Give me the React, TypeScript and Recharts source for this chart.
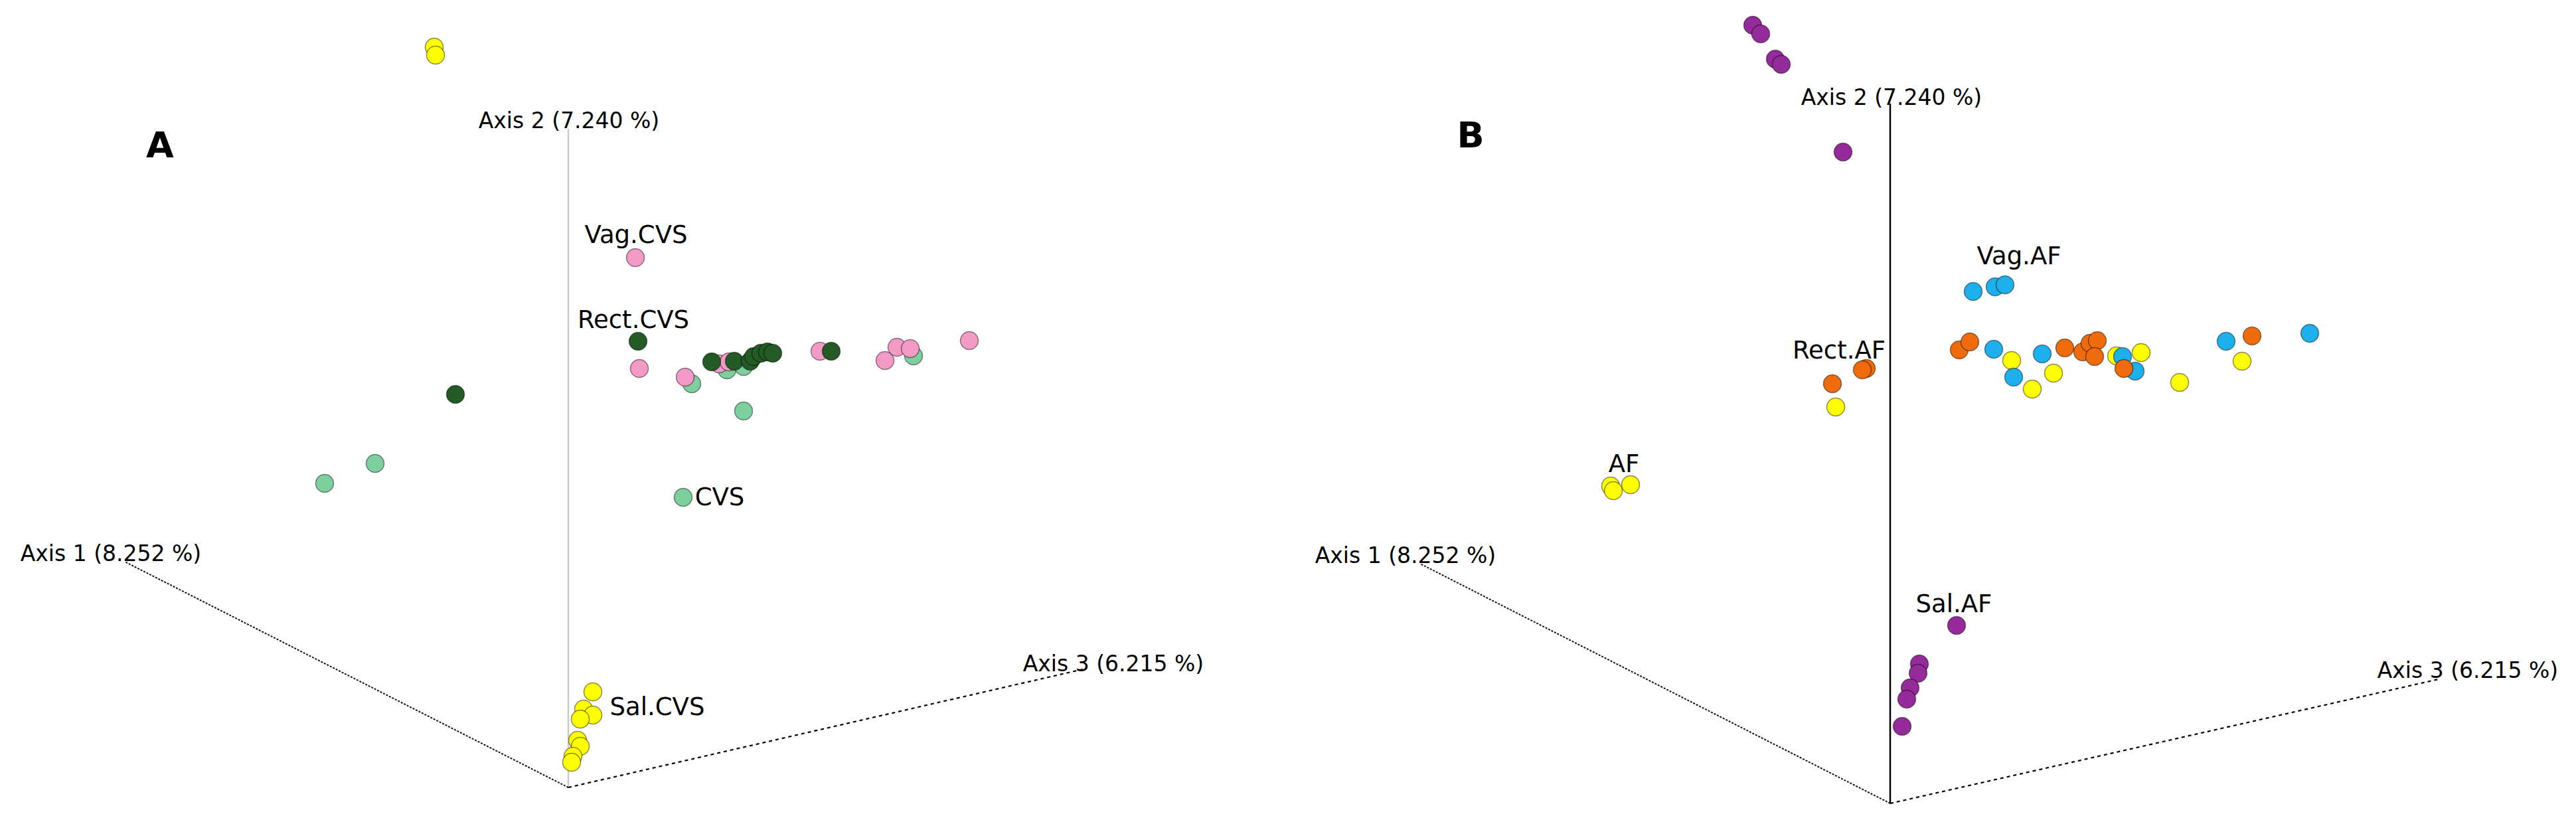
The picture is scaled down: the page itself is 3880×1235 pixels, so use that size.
import React from "react";
import { ScatterChart, Scatter, XAxis, YAxis, ReferenceLine } from "recharts";

// projected PCoA positions, origin = meeting point of the three axes, y up
// panel A
const salCVS = [
  { x: -202, y: 1115 }, { x: -200, y: 1103 }, { x: 37, y: 144 }, { x: 23, y: 118 },
  { x: 37, y: 109 }, { x: 18, y: 103 }, { x: 14, y: 71 }, { x: 18, y: 62 },
  { x: 7, y: 47 }, { x: 5, y: 38 },
];
const rectCVS = [
  { x: -170, y: 592 }, { x: 105, y: 672 }, { x: 216, y: 641 }, { x: 250, y: 642 },
  { x: 274, y: 642 }, { x: 279, y: 649 }, { x: 290, y: 654 }, { x: 300, y: 656 },
  { x: 308, y: 654 }, { x: 396, y: 657 },
];
const vagCVS = [
  { x: 101, y: 798 }, { x: 107, y: 631 }, { x: 176, y: 618 }, { x: 227, y: 638 },
  { x: 242, y: 641 }, { x: 379, y: 657 }, { x: 477, y: 643 }, { x: 495, y: 663 },
  { x: 515, y: 661 }, { x: 604, y: 673 },
];
const cvs = [
  { x: -291, y: 488 }, { x: -367, y: 458 }, { x: 186, y: 608 }, { x: 239, y: 629 },
  { x: 264, y: 634 }, { x: 520, y: 650 }, { x: 264, y: 567 }, { x: 173, y: 437 },
];

// panel B
const salAF = [
  { x: -207, y: 1172 }, { x: -195, y: 1159 }, { x: -173, y: 1121 }, { x: -164, y: 1113 },
  { x: -71, y: 981 }, { x: 100, y: 268 }, { x: 44, y: 210 }, { x: 42, y: 196 },
  { x: 30, y: 174 }, { x: 25, y: 157 }, { x: 18, y: 116 },
];
const rectAF = [
  { x: -36, y: 655 }, { x: -42, y: 653 }, { x: -87, y: 632 }, { x: 104, y: 683 },
  { x: 120, y: 695 }, { x: 263, y: 686 }, { x: 290, y: 680 }, { x: 301, y: 693 },
  { x: 312, y: 697 }, { x: 308, y: 673 }, { x: 352, y: 655 }, { x: 545, y: 704 },
];
const vagAF = [
  { x: 125, y: 771 }, { x: 158, y: 778 }, { x: 173, y: 781 }, { x: 156, y: 684 },
  { x: 186, y: 642 }, { x: 229, y: 677 }, { x: 350, y: 673 }, { x: 369, y: 651 },
  { x: 506, y: 696 }, { x: 632, y: 708 },
];
const af = [
  { x: -82, y: 597 }, { x: -421, y: 478 }, { x: -417, y: 471 }, { x: -391, y: 480 },
  { x: 183, y: 667 }, { x: 214, y: 624 }, { x: 246, y: 648 }, { x: 341, y: 674 },
  { x: 378, y: 679 }, { x: 436, y: 634 }, { x: 530, y: 666 },
];

// axis end points (projected)
const axisEndsA = { a1: { x: -668, y: 340 }, a2: { x: 0, y: 992 }, a3: { x: 775, y: 178 } };
const axisEndsB = { a1: { x: -708, y: 361 }, a2: { x: 0, y: 1054 }, a3: { x: 826, y: 187 } };

const axisLabelsA = [
  { x: -689, y: 353, text: "Axis 1 (8.252 %)" },
  { x: 1, y: 1005, text: "Axis 2 (7.240 %)" },
  { x: 821, y: 187, text: "Axis 3 (6.215 %)" },
];
const axisLabelsB = [
  { x: -730, y: 374, text: "Axis 1 (8.252 %)" },
  { x: 2, y: 1064, text: "Axis 2 (7.240 %)" },
  { x: 870, y: 201, text: "Axis 3 (6.215 %)" },
];
const groupLabelsA = [
  { x: 102, y: 833, text: "Vag.CVS" },
  { x: 98, y: 705, text: "Rect.CVS" },
  { x: 228, y: 438, text: "CVS" },
  { x: 134, y: 122, text: "Sal.CVS" },
];
const groupLabelsB = [
  { x: 194, y: 825, text: "Vag.AF" },
  { x: -77, y: 683, text: "Rect.AF" },
  { x: -401, y: 512, text: "AF" },
  { x: 96, y: 301, text: "Sal.AF" },
];
const panelTagA = [{ x: -615, y: 968, text: "A" }];
const panelTagB = [{ x: -632, y: 1007, text: "B" }];

const FONT = "'DejaVu Sans', Verdana, sans-serif";

const dot = (fill: string) => (p: any) => (
  <circle cx={p.cx} cy={p.cy} r={13.5} fill={fill} stroke="rgba(0,0,0,0.45)" strokeWidth={1.5} />
);

const textMark = (size: number, weight: string | number) => (p: any) => (
  <text
    x={p.cx}
    y={p.cy}
    textAnchor="middle"
    dominantBaseline="central"
    fontFamily={FONT}
    fontSize={size}
    fontWeight={weight}
    fill="#000"
  >
    {p.payload.text}
  </text>
);

type Pt = { x: number; y: number };
type Series = { data: Pt[]; color: string };

function Panel(props: {
  xDomain: [number, number];
  yDomain: [number, number];
  ends: { a1: Pt; a2: Pt; a3: Pt };
  axis2Color: string;
  series: Series[];
  axisLabels: any[];
  groupLabels: any[];
  tag: any[];
}) {
  const { xDomain, yDomain, ends, series } = props;
  const o = { x: 0, y: 0 };
  return (
    <ScatterChart width={1940} height={1235} margin={{ top: 0, right: 0, bottom: 0, left: 0 }}>
      <XAxis type="number" dataKey="x" domain={xDomain} hide allowDataOverflow />
      <YAxis type="number" dataKey="y" domain={yDomain} hide allowDataOverflow />
      <ReferenceLine segment={[o, ends.a2]} stroke={props.axis2Color} strokeWidth={2.5} ifOverflow="visible" />
      <ReferenceLine segment={[o, ends.a1]} stroke="#111" strokeWidth={2} strokeDasharray="3 2" ifOverflow="visible" />
      <ReferenceLine segment={[o, ends.a3]} stroke="#000" strokeWidth={2.2} strokeDasharray="5 5" ifOverflow="visible" />
      {series.map((s, i) => (
        <Scatter key={i} data={s.data} shape={dot(s.color)} isAnimationActive={false} />
      ))}
      <Scatter data={props.axisLabels} shape={textMark(33, 400)} isAnimationActive={false} />
      <Scatter data={props.groupLabels} shape={textMark(37, 400)} isAnimationActive={false} />
      <Scatter data={props.tag} shape={textMark(54, 900)} isAnimationActive={false} />
    </ScatterChart>
  );
}

export default function App() {
  return (
    <div style={{ position: "absolute", left: 0, top: 0, width: 3880, height: 1235, display: "flex", background: "#fff" }}>
      <Panel
        xDomain={[-856, 1084]}
        yDomain={[-49, 1186]}
        ends={axisEndsA}
        axis2Color="#cccccc"
        series={[
          { data: salCVS, color: "#ffff00" },
          { data: cvs, color: "#7dcf9e" },
          { data: vagCVS, color: "#f49ac6" },
          { data: rectCVS, color: "#245a25" },
        ]}
        axisLabels={axisLabelsA}
        groupLabels={groupLabelsA}
        tag={panelTagA}
      />
      <Panel
        xDomain={[-907, 1033]}
        yDomain={[-25, 1210]}
        ends={axisEndsB}
        axis2Color="#000000"
        series={[
          { data: salAF, color: "#952a9b" },
          { data: af, color: "#ffff00" },
          { data: vagAF, color: "#1eb0ec" },
          { data: rectAF, color: "#ef6b0b" },
        ]}
        axisLabels={axisLabelsB}
        groupLabels={groupLabelsB}
        tag={panelTagB}
      />
    </div>
  );
}
